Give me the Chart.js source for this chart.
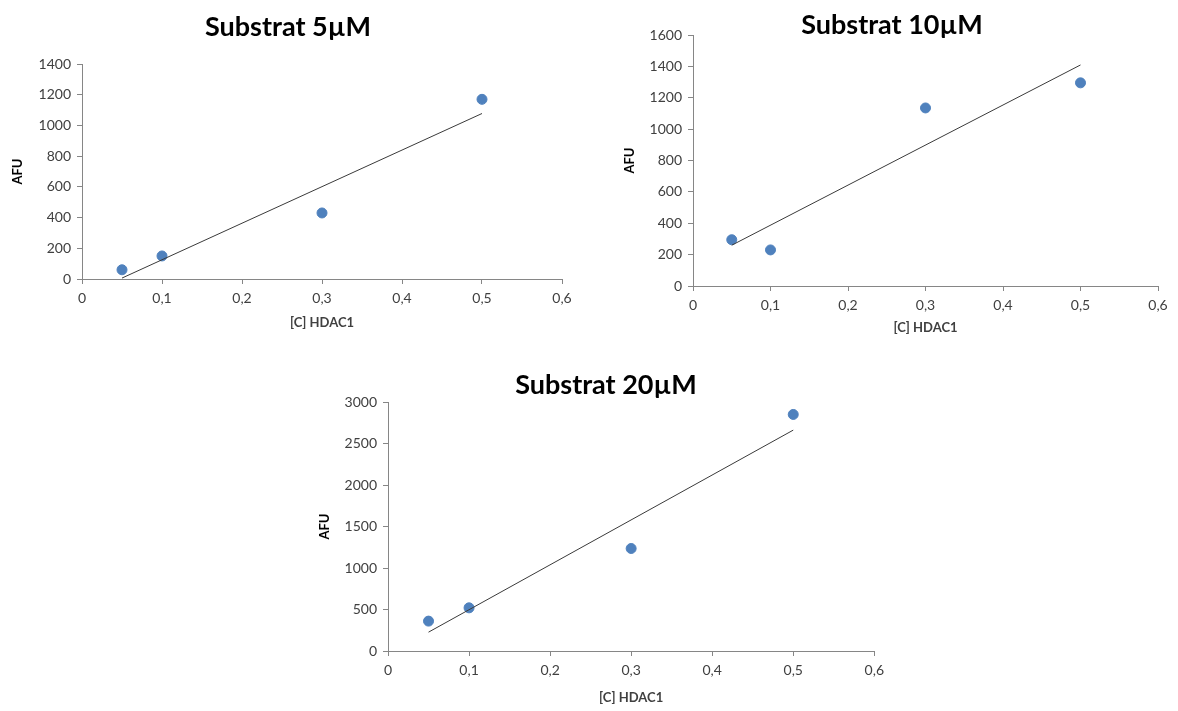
<!DOCTYPE html>
<html>
<head>
<meta charset="utf-8">
<script src="https://cdn.jsdelivr.net/npm/chart.js@4.4.1/dist/chart.umd.min.js"></script>
<style>
  body { margin: 0; background: #fff; }
  #page { position: relative; width: 1178px; height: 711px; overflow: hidden; }
  .box { position: absolute; }
</style>
</head>
<body>
<div id="page">
  <div class="box" style="left:0;top:0;width:590px;height:345px"><canvas id="c5"></canvas></div>
  <div class="box" style="left:590px;top:0;width:588px;height:350px"><canvas id="c10"></canvas></div>
  <div class="box" style="left:290px;top:360px;width:600px;height:351px"><canvas id="c20"></canvas></div>
</div>
<script>
// concentrations of HDAC1 (x)
const hdac1 = [0.05, 0.1, 0.3, 0.5];

// AFU values
const afu5 = [60, 150, 430, 1170];
const afu10 = [295, 230, 1135, 1295];
const afu20 = [360, 520, 1235, 2850];

const titles = ['Substrat 5µM', 'Substrat 10µM', 'Substrat 20µM'];
const xLabel = '[C] HDAC1';
const yLabel = 'AFU';

const xTicksMax = 0.6;
const yMax5 = 1400, yMax10 = 1600, yMax20 = 3000;

// least squares trend line (Excel "linear trendline")
function trend(xs, ys) {
  const n = xs.length;
  const mx = xs.reduce((a, b) => a + b, 0) / n;
  const my = ys.reduce((a, b) => a + b, 0) / n;
  let sxy = 0, sxx = 0;
  for (let i = 0; i < n; i++) {
    sxy += (xs[i] - mx) * (ys[i] - my);
    sxx += (xs[i] - mx) * (xs[i] - mx);
  }
  const slope = sxy / sxx;
  const b = my - slope * mx;
  const x0 = Math.min(...xs), x1 = Math.max(...xs);
  return [{ x: x0, y: slope * x0 + b }, { x: x1, y: slope * x1 + b }];
}

// draws the big title wherever we want it (not in a layout box)
const freeTitle = {
  id: 'freeTitle',
  afterDraw(chart, args, opts) {
    const ctx = chart.ctx;
    ctx.save();
    ctx.font = 'bold 27px Lato';
    ctx.fillStyle = '#000';
    ctx.textAlign = 'center';
    ctx.textBaseline = 'middle';
    ctx.fillText(opts.text, opts.x, opts.y);
    ctx.restore();
  }
};

function makeChart(id, ys, yMax, yStep, cfg) {
  const pts = hdac1.map((x, i) => ({ x: x, y: ys[i] }));
  return new Chart(document.getElementById(id), {
    type: 'scatter',
    data: {
      datasets: [{
        data: pts,
        backgroundColor: '#4F81BD',
        borderColor: '#4F81BD',
        pointRadius: 5,
        pointHoverRadius: 5,
        order: 2
      }, {
        type: 'line',
        data: trend(hdac1, ys),
        borderColor: '#3a3a3a',
        borderWidth: 1,
        pointRadius: 0,
        fill: false,
        order: 1
      }]
    },
    options: {
      responsive: true,
      maintainAspectRatio: false,
      animation: false,
      layout: { padding: cfg.padding },
      plugins: {
        legend: { display: false },
        tooltip: { enabled: false },
        freeTitle: cfg.title
      },
      scales: {
        x: {
          type: 'linear',
          min: 0,
          max: xTicksMax,
          afterFit: s => { s.height = cfg.xH; },
          grid: { drawOnChartArea: false, tickLength: 5, color: '#868686' },
          border: { color: '#868686' },
          ticks: {
            stepSize: 0.1,
            padding: 6,
            color: '#404040',
            font: { family: 'Lato', size: 14 },
            callback: v => {
              const r = Math.round(v * 10) / 10;
              return r === 0 ? '0' : r.toFixed(1).replace('.', ',');
            }
          },
          title: {
            display: true,
            text: xLabel,
            color: '#404040',
            font: { family: 'Lato', size: 13, weight: 'bold' },
            padding: { top: 0, bottom: cfg.xTitlePad }
          }
        },
        y: {
          min: 0,
          max: yMax,
          afterFit: s => { s.width = cfg.yW; },
          grid: { drawOnChartArea: false, tickLength: 5, color: '#868686' },
          border: { color: '#868686' },
          ticks: {
            stepSize: yStep,
            padding: 6,
            color: '#404040',
            font: { family: 'Lato', size: 14 },
            callback: v => String(v)
          },
          title: {
            display: true,
            text: yLabel,
            color: '#000',
            font: { family: 'Lato', size: 13, weight: 'bold' },
            padding: { top: cfg.yTitlePad, bottom: 0 }
          }
        }
      }
    },
    plugins: [freeTitle]
  });
}

makeChart('c5', afu5, yMax5, 200, {
  padding: { left: 0, right: 28, top: 64, bottom: 11 },
  xH: 55, yW: 82, xTitlePad: 3, yTitlePad: 10,
  title: { text: titles[0], x: 288, y: 27 }
});

makeChart('c10', afu10, yMax10, 200, {
  padding: { left: 30, right: 20, top: 35, bottom: 10 },
  xH: 54, yW: 73, xTitlePad: 4, yTitlePad: 2,
  title: { text: titles[1], x: 302, y: 25 }
});

makeChart('c20', afu20, yMax20, 500, {
  padding: { left: 25, right: 15, top: 42, bottom: 0 },
  xH: 60, yW: 73, xTitlePad: 5, yTitlePad: 2,
  title: { text: titles[2], x: 316, y: 25 }
});
</script>
</body>
</html>
